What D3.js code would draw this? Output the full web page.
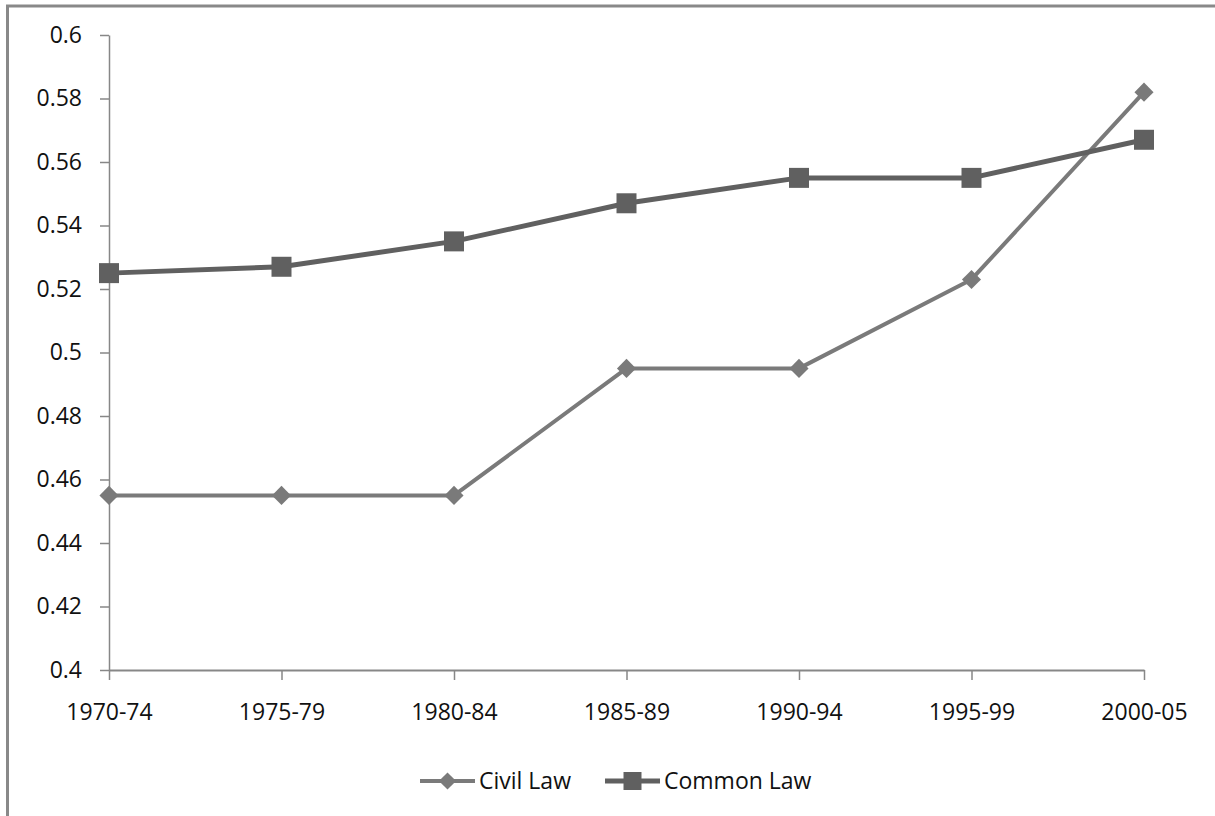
<!DOCTYPE html>
<html>
<head>
<meta charset="utf-8">
<script src="https://cdn.jsdelivr.net/npm/d3@7"></script>
<style>
  html, body { margin: 0; padding: 0; background: #fff; }
  svg { display: block; }
  text { font-family: "Open Sans", sans-serif; fill: #111; }
</style>
</head>
<body>
<svg id="chart" width="1215" height="816"></svg>
<script>
// Periods on the horizontal axis
const periods = ["1970-74", "1975-79", "1980-84", "1985-89", "1990-94", "1995-99", "2000-05"];
// Series values per period
const civilLaw  = [0.455, 0.455, 0.455, 0.495, 0.495, 0.523, 0.582];
const commonLaw = [0.525, 0.527, 0.535, 0.547, 0.555, 0.555, 0.567];
// Vertical axis ticks
const yTicks = [0.4, 0.42, 0.44, 0.46, 0.48, 0.5, 0.52, 0.54, 0.56, 0.58, 0.6];
const yTickLabels = ["0.4", "0.42", "0.44", "0.46", "0.48", "0.5", "0.52", "0.54", "0.56", "0.58", "0.6"];

const series = [
  { name: "Civil Law",  values: civilLaw,  color: "#7a7a7a", width: 4, marker: "diamond" },
  { name: "Common Law", values: commonLaw, color: "#606060", width: 5, marker: "square" }
];

const svg = d3.select("#chart");
const axisColor = "#878787";
const fontSize = 23;

// Outer chart frame (runs off the right and bottom edges)
svg.append("rect")
  .attr("x", 7.5).attr("y", 6)
  .attr("width", 1260).attr("height", 860)
  .attr("fill", "none")
  .attr("stroke", "#898989")
  .attr("stroke-width", 3);

const x = d3.scalePoint().domain(periods).range([109, 1144]);
const y = d3.scaleLinear().domain([0.4, 0.6]).range([670, 35]);

// Y axis
const yAxis = svg.append("g")
  .attr("transform", `translate(${x(periods[0])},0)`)
  .call(d3.axisLeft(y).tickValues(yTicks)
    .tickFormat((d, i) => yTickLabels[i])
    .tickSize(9).tickSizeOuter(0).tickPadding(18));
yAxis.select(".domain").attr("stroke", axisColor).attr("stroke-width", 1.5);
yAxis.selectAll(".tick line").attr("stroke", axisColor).attr("stroke-width", 1.5);
yAxis.selectAll(".tick text")
  .style("font-family", '"Open Sans", sans-serif')
  .attr("font-size", fontSize).attr("fill", "#111");

// X axis
const xAxis = svg.append("g")
  .attr("transform", `translate(0,${y(0.4)})`)
  .call(d3.axisBottom(x).tickSize(10).tickSizeOuter(0).tickPadding(0));
xAxis.select(".domain").attr("stroke", axisColor).attr("stroke-width", 2);
xAxis.selectAll(".tick line").attr("stroke", axisColor).attr("stroke-width", 1.5);
xAxis.selectAll(".tick text")
  .style("font-family", '"Open Sans", sans-serif')
  .attr("font-size", fontSize).attr("fill", "#111")
  .attr("y", 42).attr("dy", "0.35em");

// Marker shapes
function markerPath(kind, scale) {
  if (kind === "square") {
    const s = 20 * scale;
    return { d: d3.symbol(d3.symbolSquare, s * s)(), rot: 0 };
  }
  const s = 13.5 * scale;
  return { d: d3.symbol(d3.symbolSquare, s * s)(), rot: 45 };
}

const line = d3.line()
  .x((d, i) => x(periods[i]))
  .y(d => y(d));

series.forEach(s => {
  const g = svg.append("g");
  g.append("path")
    .datum(s.values)
    .attr("d", line)
    .attr("fill", "none")
    .attr("stroke", s.color)
    .attr("stroke-width", s.width)
    .attr("stroke-linejoin", "round");
  const m = markerPath(s.marker, 1);
  g.selectAll("path.marker")
    .data(s.values)
    .join("path")
    .attr("class", "marker")
    .attr("d", m.d)
    .attr("transform", (d, i) => `translate(${x(periods[i])},${y(d)}) rotate(${m.rot})`)
    .attr("fill", s.color);
});

// Legend
const legendY = 781;
const legendItems = [
  { s: series[0], x0: 420 },
  { s: series[1], x0: 605 }
];
legendItems.forEach(({ s, x0 }) => {
  const g = svg.append("g").attr("transform", `translate(${x0},${legendY})`);
  g.append("line")
    .attr("x1", 0).attr("x2", 55)
    .attr("stroke", s.color).attr("stroke-width", s.width);
  const m = markerPath(s.marker, 0.9);
  g.append("path")
    .attr("d", m.d)
    .attr("transform", `translate(27.5,0) rotate(${m.rot})`)
    .attr("fill", s.color);
  g.append("text")
    .attr("x", 59).attr("y", 0).attr("dy", "0.35em")
    .attr("font-size", fontSize)
    .text(s.name);
});
</script>
</body>
</html>
